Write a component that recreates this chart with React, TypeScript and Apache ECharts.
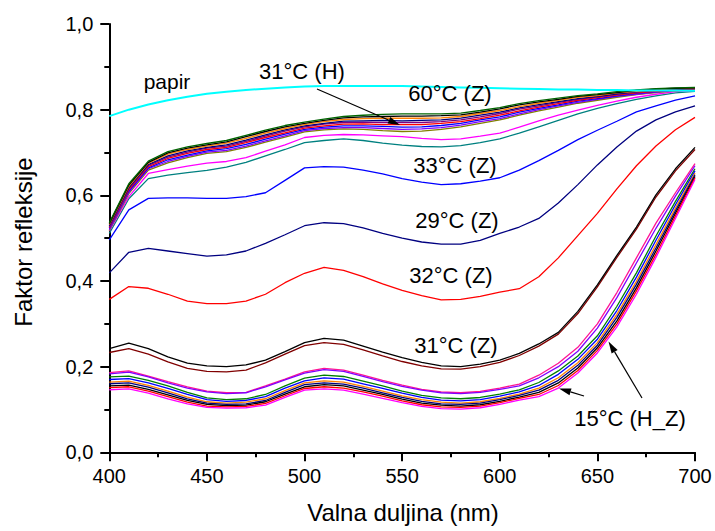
import React, { useEffect, useRef } from "react";
import * as echarts from "echarts";

const wavelengths = [400, 410, 420, 430, 440, 450, 460, 470, 480, 490, 500, 510, 520, 530, 540, 550, 560, 570, 580, 590, 600, 610, 620, 630, 640, 650, 660, 670, 680, 690, 700];
const xTicks = [400, 450, 500, 550, 600, 650, 700];
const yTicks = ["0,0", "0,2", "0,4", "0,6", "0,8", "1,0"];

const papir = [0.785, 0.800, 0.812, 0.822, 0.830, 0.837, 0.842, 0.846, 0.849, 0.852, 0.854, 0.855, 0.855, 0.855, 0.855, 0.855, 0.854, 0.853, 0.852, 0.851, 0.850, 0.849, 0.848, 0.847, 0.847, 0.846, 0.846, 0.845, 0.845, 0.845, 0.844];

// upper band (60°C (Z), 31°C (H) ...)
const u1 = [0.536, 0.627, 0.680, 0.702, 0.713, 0.721, 0.728, 0.740, 0.752, 0.763, 0.771, 0.778, 0.784, 0.787, 0.789, 0.790, 0.790, 0.790, 0.792, 0.798, 0.805, 0.814, 0.821, 0.827, 0.833, 0.837, 0.842, 0.846, 0.849, 0.851, 0.852];
const u2 = [0.534, 0.624, 0.677, 0.699, 0.710, 0.718, 0.725, 0.737, 0.749, 0.760, 0.768, 0.775, 0.781, 0.783, 0.784, 0.785, 0.785, 0.786, 0.788, 0.794, 0.802, 0.811, 0.818, 0.824, 0.831, 0.835, 0.840, 0.845, 0.848, 0.850, 0.851];
const u3 = [0.532, 0.621, 0.675, 0.696, 0.707, 0.715, 0.722, 0.733, 0.745, 0.756, 0.765, 0.772, 0.777, 0.779, 0.780, 0.780, 0.780, 0.781, 0.784, 0.791, 0.798, 0.807, 0.815, 0.822, 0.829, 0.833, 0.839, 0.843, 0.847, 0.849, 0.851];
const u4 = [0.529, 0.618, 0.672, 0.692, 0.704, 0.712, 0.718, 0.729, 0.741, 0.753, 0.762, 0.768, 0.773, 0.774, 0.775, 0.774, 0.775, 0.776, 0.780, 0.787, 0.794, 0.804, 0.812, 0.819, 0.826, 0.831, 0.837, 0.842, 0.846, 0.848, 0.850];
const u5 = [0.527, 0.616, 0.670, 0.689, 0.701, 0.710, 0.715, 0.726, 0.738, 0.750, 0.760, 0.766, 0.770, 0.771, 0.770, 0.770, 0.770, 0.772, 0.776, 0.783, 0.791, 0.801, 0.809, 0.817, 0.824, 0.830, 0.836, 0.841, 0.845, 0.848, 0.849];
const u6 = [0.525, 0.613, 0.667, 0.686, 0.698, 0.707, 0.712, 0.723, 0.735, 0.746, 0.757, 0.762, 0.766, 0.767, 0.765, 0.765, 0.765, 0.768, 0.772, 0.779, 0.787, 0.797, 0.806, 0.814, 0.822, 0.828, 0.834, 0.839, 0.843, 0.847, 0.848];
const u7 = [0.523, 0.610, 0.664, 0.683, 0.694, 0.704, 0.709, 0.719, 0.731, 0.743, 0.754, 0.759, 0.762, 0.762, 0.761, 0.759, 0.760, 0.763, 0.768, 0.776, 0.783, 0.794, 0.803, 0.811, 0.820, 0.826, 0.832, 0.838, 0.842, 0.846, 0.848];
const u8 = [0.520, 0.607, 0.662, 0.679, 0.691, 0.701, 0.705, 0.715, 0.727, 0.739, 0.751, 0.756, 0.758, 0.758, 0.756, 0.754, 0.755, 0.758, 0.764, 0.772, 0.779, 0.790, 0.800, 0.809, 0.817, 0.824, 0.831, 0.836, 0.841, 0.845, 0.847];
const u9 = [0.518, 0.604, 0.659, 0.676, 0.688, 0.698, 0.702, 0.712, 0.724, 0.736, 0.748, 0.753, 0.755, 0.754, 0.751, 0.749, 0.750, 0.754, 0.760, 0.768, 0.776, 0.787, 0.797, 0.806, 0.815, 0.822, 0.829, 0.835, 0.840, 0.844, 0.846];
const magentaU = [0.517, 0.597, 0.651, 0.660, 0.668, 0.675, 0.679, 0.688, 0.703, 0.718, 0.735, 0.740, 0.742, 0.741, 0.739, 0.737, 0.733, 0.730, 0.732, 0.738, 0.745, 0.759, 0.774, 0.787, 0.799, 0.810, 0.820, 0.829, 0.836, 0.842, 0.845];
const tealU = [0.511, 0.592, 0.639, 0.647, 0.653, 0.658, 0.666, 0.677, 0.692, 0.707, 0.723, 0.728, 0.732, 0.728, 0.722, 0.717, 0.714, 0.713, 0.716, 0.723, 0.732, 0.745, 0.760, 0.775, 0.790, 0.803, 0.814, 0.824, 0.832, 0.839, 0.843];

// named curves
const c33 = [0.496, 0.566, 0.593, 0.594, 0.594, 0.593, 0.593, 0.597, 0.606, 0.635, 0.664, 0.667, 0.666, 0.659, 0.650, 0.639, 0.631, 0.625, 0.627, 0.633, 0.641, 0.659, 0.681, 0.705, 0.730, 0.752, 0.773, 0.795, 0.809, 0.822, 0.832];
const c29 = [0.419, 0.467, 0.476, 0.470, 0.464, 0.458, 0.461, 0.470, 0.488, 0.508, 0.529, 0.536, 0.534, 0.524, 0.511, 0.500, 0.491, 0.486, 0.486, 0.495, 0.511, 0.526, 0.546, 0.582, 0.625, 0.671, 0.713, 0.750, 0.776, 0.795, 0.809];
const c32 = [0.357, 0.387, 0.383, 0.369, 0.353, 0.347, 0.347, 0.353, 0.369, 0.396, 0.418, 0.432, 0.425, 0.410, 0.393, 0.378, 0.366, 0.356, 0.357, 0.364, 0.374, 0.382, 0.410, 0.454, 0.506, 0.558, 0.615, 0.669, 0.715, 0.753, 0.782];
const c31a = [0.242, 0.255, 0.242, 0.223, 0.208, 0.202, 0.200, 0.204, 0.215, 0.235, 0.256, 0.266, 0.262, 0.248, 0.234, 0.221, 0.210, 0.202, 0.200, 0.206, 0.215, 0.231, 0.253, 0.280, 0.329, 0.391, 0.460, 0.526, 0.601, 0.662, 0.712];
const c31b = [0.233, 0.242, 0.229, 0.211, 0.196, 0.189, 0.188, 0.192, 0.209, 0.229, 0.249, 0.256, 0.252, 0.239, 0.225, 0.212, 0.202, 0.195, 0.194, 0.200, 0.210, 0.226, 0.248, 0.276, 0.324, 0.386, 0.455, 0.521, 0.596, 0.657, 0.707];

// lower bundle (15°C (H_Z) ...)
const l1 = [0.186, 0.190, 0.178, 0.165, 0.153, 0.143, 0.139, 0.140, 0.155, 0.171, 0.188, 0.196, 0.192, 0.180, 0.168, 0.157, 0.147, 0.141, 0.139, 0.142, 0.150, 0.159, 0.180, 0.208, 0.245, 0.300, 0.373, 0.454, 0.535, 0.606, 0.674];
const l2 = [0.183, 0.187, 0.176, 0.162, 0.150, 0.141, 0.137, 0.139, 0.153, 0.169, 0.185, 0.193, 0.189, 0.177, 0.165, 0.154, 0.145, 0.139, 0.137, 0.140, 0.147, 0.155, 0.174, 0.200, 0.236, 0.290, 0.361, 0.442, 0.523, 0.598, 0.669];
const l3 = [0.176, 0.178, 0.168, 0.155, 0.140, 0.127, 0.123, 0.125, 0.135, 0.155, 0.173, 0.180, 0.177, 0.166, 0.155, 0.143, 0.133, 0.127, 0.125, 0.128, 0.136, 0.146, 0.163, 0.190, 0.225, 0.272, 0.341, 0.419, 0.505, 0.586, 0.662];
const l4 = [0.170, 0.172, 0.162, 0.149, 0.135, 0.123, 0.119, 0.121, 0.130, 0.150, 0.167, 0.174, 0.171, 0.160, 0.149, 0.138, 0.128, 0.122, 0.120, 0.123, 0.131, 0.141, 0.156, 0.182, 0.217, 0.264, 0.331, 0.409, 0.495, 0.578, 0.657];
const l5 = [0.164, 0.166, 0.156, 0.143, 0.129, 0.118, 0.115, 0.117, 0.125, 0.144, 0.162, 0.167, 0.164, 0.154, 0.143, 0.132, 0.123, 0.117, 0.115, 0.118, 0.126, 0.136, 0.150, 0.174, 0.209, 0.256, 0.322, 0.399, 0.485, 0.570, 0.652];
const l6 = [0.160, 0.162, 0.152, 0.139, 0.125, 0.115, 0.112, 0.113, 0.121, 0.140, 0.158, 0.162, 0.159, 0.150, 0.139, 0.128, 0.119, 0.113, 0.112, 0.115, 0.123, 0.133, 0.145, 0.168, 0.203, 0.250, 0.315, 0.392, 0.477, 0.564, 0.648];
const l7 = [0.155, 0.157, 0.147, 0.134, 0.121, 0.112, 0.109, 0.110, 0.118, 0.136, 0.153, 0.158, 0.155, 0.145, 0.135, 0.124, 0.115, 0.110, 0.108, 0.111, 0.119, 0.129, 0.140, 0.162, 0.197, 0.244, 0.307, 0.384, 0.470, 0.558, 0.644];
const l8 = [0.151, 0.153, 0.143, 0.130, 0.117, 0.108, 0.106, 0.107, 0.114, 0.132, 0.149, 0.153, 0.150, 0.141, 0.131, 0.120, 0.111, 0.106, 0.105, 0.108, 0.116, 0.126, 0.135, 0.156, 0.191, 0.238, 0.300, 0.377, 0.462, 0.552, 0.641];
const l9 = [0.146, 0.148, 0.138, 0.125, 0.113, 0.105, 0.103, 0.104, 0.110, 0.128, 0.145, 0.148, 0.145, 0.136, 0.126, 0.116, 0.107, 0.102, 0.101, 0.104, 0.112, 0.122, 0.130, 0.150, 0.185, 0.232, 0.293, 0.369, 0.455, 0.546, 0.637];

const curves: { name: string; values: number[]; color: string; width: number }[] = [
  { name: "l1", values: l1, color: "#FF1493", width: 1.3 },
  { name: "l2", values: l2, color: "#8000FF", width: 1.3 },
  { name: "l3", values: l3, color: "#008000", width: 1.3 },
  { name: "l4", values: l4, color: "#0000FF", width: 1.3 },
  { name: "l5", values: l5, color: "#FF8000", width: 1.3 },
  { name: "l6", values: l6, color: "#000080", width: 1.3 },
  { name: "l7", values: l7, color: "#000000", width: 1.3 },
  { name: "l8", values: l8, color: "#FF0000", width: 1.3 },
  { name: "l9", values: l9, color: "#FF00FF", width: 1.3 },
  { name: "31°C (Z) b", values: c31b, color: "#800000", width: 1.3 },
  { name: "31°C (Z) a", values: c31a, color: "#000000", width: 1.3 },
  { name: "32°C (Z)", values: c32, color: "#FF0000", width: 1.3 },
  { name: "29°C (Z)", values: c29, color: "#000080", width: 1.3 },
  { name: "33°C (Z)", values: c33, color: "#0000FF", width: 1.3 },
  { name: "tealU", values: tealU, color: "#008080", width: 1.3 },
  { name: "magentaU", values: magentaU, color: "#FF00FF", width: 1.3 },
  { name: "u9", values: u9, color: "#808000", width: 1.3 },
  { name: "u8", values: u8, color: "#8000FF", width: 1.3 },
  { name: "u7", values: u7, color: "#0000FF", width: 1.3 },
  { name: "u6", values: u6, color: "#FF0000", width: 1.3 },
  { name: "u5", values: u5, color: "#800080", width: 1.3 },
  { name: "u4", values: u4, color: "#000080", width: 1.3 },
  { name: "u3", values: u3, color: "#FF8000", width: 1.3 },
  { name: "u2", values: u2, color: "#000000", width: 1.3 },
  { name: "u1", values: u1, color: "#006400", width: 1.3 },
  { name: "papir", values: papir, color: "#00FFFF", width: 2 },
];

const FONT = "'Liberation Sans', Arial, Helvetica, sans-serif";

function arrow(x1: number, y1: number, x2: number, y2: number, len = 12, half = 3.5) {
  const dx = x2 - x1;
  const dy = y2 - y1;
  const d = Math.sqrt(dx * dx + dy * dy);
  const ux = dx / d;
  const uy = dy / d;
  const bx = x2 - ux * len;
  const by = y2 - uy * len;
  return [
    { type: "line", shape: { x1, y1, x2: bx, y2: by }, style: { stroke: "#000", lineWidth: 1.2 }, z: 100 },
    {
      type: "polygon",
      shape: { points: [[x2, y2], [bx - uy * half, by + ux * half], [bx + uy * half, by - ux * half]] },
      style: { fill: "#000" },
      z: 100,
    },
  ];
}

function label(text: string, x: number, y: number, size = 22) {
  return {
    type: "text",
    x,
    y,
    z: 100,
    style: { text, fontSize: size, fontFamily: FONT, fill: "#000", align: "center", verticalAlign: "middle" },
  };
}

export default function App() {
  const ref = useRef<HTMLDivElement>(null);
  useEffect(() => {
    if (!ref.current) return;
    const chart = echarts.init(ref.current, undefined, { renderer: "svg" });
    const option = {
      animation: false,
      backgroundColor: "#fff",
      grid: { left: 109.3, right: 20, top: 24, bottom: 78.7, containLabel: false },
      xAxis: {
        type: "value",
        min: 400,
        max: 700,
        interval: 50,
        axisLine: { show: true, onZero: false, lineStyle: { color: "#000", width: 2 } },
        axisTick: { show: true, inside: false, length: 9, lineStyle: { color: "#000", width: 2 } },
        minorTick: { show: true, splitNumber: 2, length: 5, lineStyle: { color: "#000", width: 2 } },
        splitLine: { show: false },
        axisLabel: {
          fontSize: 20,
          fontFamily: FONT,
          color: "#000",
          margin: 14,
          formatter: (v: number) => (xTicks.includes(v) ? String(v) : ""),
        },
      },
      yAxis: {
        type: "value",
        min: 0,
        max: 1,
        interval: 0.2,
        axisLine: { show: true, onZero: false, lineStyle: { color: "#000", width: 2 } },
        axisTick: { show: true, inside: false, length: 9, lineStyle: { color: "#000", width: 2 } },
        minorTick: { show: true, splitNumber: 2, length: 5, lineStyle: { color: "#000", width: 2 } },
        splitLine: { show: false },
        axisLabel: {
          fontSize: 20,
          fontFamily: FONT,
          color: "#000",
          margin: 16,
          formatter: (v: number) => yTicks[Math.round(v * 5)] ?? "",
        },
      },
      series: curves.map((c) => ({
        name: c.name,
        type: "line",
        data: wavelengths.map((w, i) => [w, c.values[i]]),
        showSymbol: false,
        symbol: "none",
        clip: true,
        lineStyle: { color: c.color, width: c.width },
        itemStyle: { color: c.color },
      })),
      graphic: [
        label("papir", 167, 81, 21),
        label("31°C (H)", 302, 71),
        label("60°C (Z)", 450, 93),
        label("33°C (Z)", 455, 165),
        label("29°C (Z)", 457, 220),
        label("32°C (Z)", 451, 275),
        label("31°C (Z)", 456, 345),
        label("15°C (H_Z)", 630, 418),
        ...arrow(317, 89, 400, 125),
        ...arrow(584, 396, 559, 388.5),
        ...arrow(642, 398, 608.5, 341.5),
        {
          type: "text",
          x: 23,
          y: 242,
          rotation: Math.PI / 2,
          z: 100,
          style: { text: "Faktor refleksije", fontSize: 24, fontFamily: FONT, fill: "#000", align: "center", verticalAlign: "middle" },
        },
        label("Valna duljina (nm)", 403, 512, 24),
      ],
    };
    chart.setOption(option as any);
    return () => chart.dispose();
  }, []);
  return <div ref={ref} style={{ position: "fixed", left: 0, top: 0, width: 715, height: 531 }} />;
}
